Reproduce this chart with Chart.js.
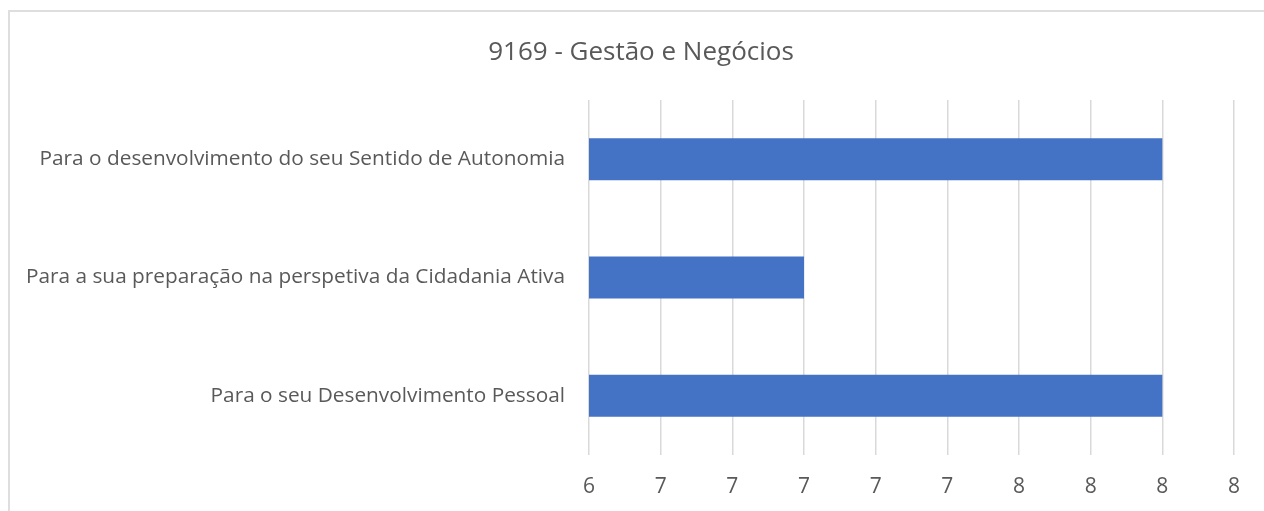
<!DOCTYPE html>
<html>
<head>
<meta charset="utf-8">
<script src="https://cdn.jsdelivr.net/npm/chart.js@4/dist/chart.umd.min.js"></script>
<style>
  html, body { margin: 0; padding: 0; background: #fff; overflow: hidden; }
  #frame { position: absolute; left: 8px; top: 10px; width: 1400px; height: 700px; border: 2px solid #dedede; box-sizing: border-box; }
  #wrap { position: absolute; left: 0; top: 0; width: 1264px; height: 511px; }
</style>
</head>
<body>
<div id="frame"></div>
<div id="wrap"><canvas id="chart" width="1264" height="511"></canvas></div>
<script>
// Chart data
const chartTitle = '9169 - Gestão e Negócios';
const categories = [
    'Para o desenvolvimento do seu Sentido de Autonomia',
    'Para a sua preparação na perspetiva da Cidadania Ativa',
    'Para o seu Desenvolvimento Pessoal'
];
const values = [8, 7, 8];
const axisMin = 6.4;
const axisMax = 8.2;
const axisStep = 0.2;
const tickLabels = ['6', '7', '7', '7', '7', '7', '8', '8', '8', '8'];

// the title is centred on the whole chart frame, not on the padded box
const centerTitle = {
    id: 'centerTitle',
    afterLayout(chart) {
        if (chart.titleBlock) {
            chart.titleBlock.left = 48;
            chart.titleBlock.right = 1234;
        }
    }
};

document.addEventListener('DOMContentLoaded', function() {
    const ctx = document.getElementById('chart').getContext('2d');
    const fontFamily = '"Open Sans", sans-serif';
    const textColor = '#595959';

    new Chart(ctx, {
        type: 'bar',
        data: {
            labels: categories,
            datasets: [{
                data: values,
                backgroundColor: '#4472C4',
                borderWidth: 0,
                categoryPercentage: 1,
                barPercentage: 0.355
            }]
        },
        options: {
            indexAxis: 'y',
            responsive: false,
            animation: false,
            layout: {
                padding: { left: 10, right: 30, top: 0, bottom: 0 }
            },
            plugins: {
                legend: { display: false },
                tooltip: { enabled: false },
                title: {
                    display: true,
                    text: chartTitle,
                    color: textColor,
                    font: { family: fontFamily, size: 26, weight: 'normal', lineHeight: 1.2 },
                    padding: { top: 37, bottom: 31.8 }
                }
            },
            scales: {
                x: {
                    type: 'linear',
                    min: axisMin,
                    max: axisMax,
                    border: { display: false },
                    grid: { color: '#d9d9d9', lineWidth: 1.5, drawTicks: false },
                    ticks: {
                        stepSize: axisStep,
                        color: textColor,
                        padding: 19,
                        maxRotation: 0,
                        autoSkip: false,
                        font: { family: fontFamily, size: 21 },
                        callback: (value, index) => tickLabels[index]
                    },
                    afterFit: scale => { scale.height = 56; }
                },
                y: {
                    border: { display: false },
                    grid: { display: false, drawTicks: false },
                    ticks: {
                        color: textColor,
                        padding: 24,
                        autoSkip: false,
                        font: { family: fontFamily, size: 20.8 }
                    },
                    afterFit: scale => { scale.width = 579; }
                }
            }
        },
        plugins: [centerTitle]
    });
});
</script>
</body>
</html>
